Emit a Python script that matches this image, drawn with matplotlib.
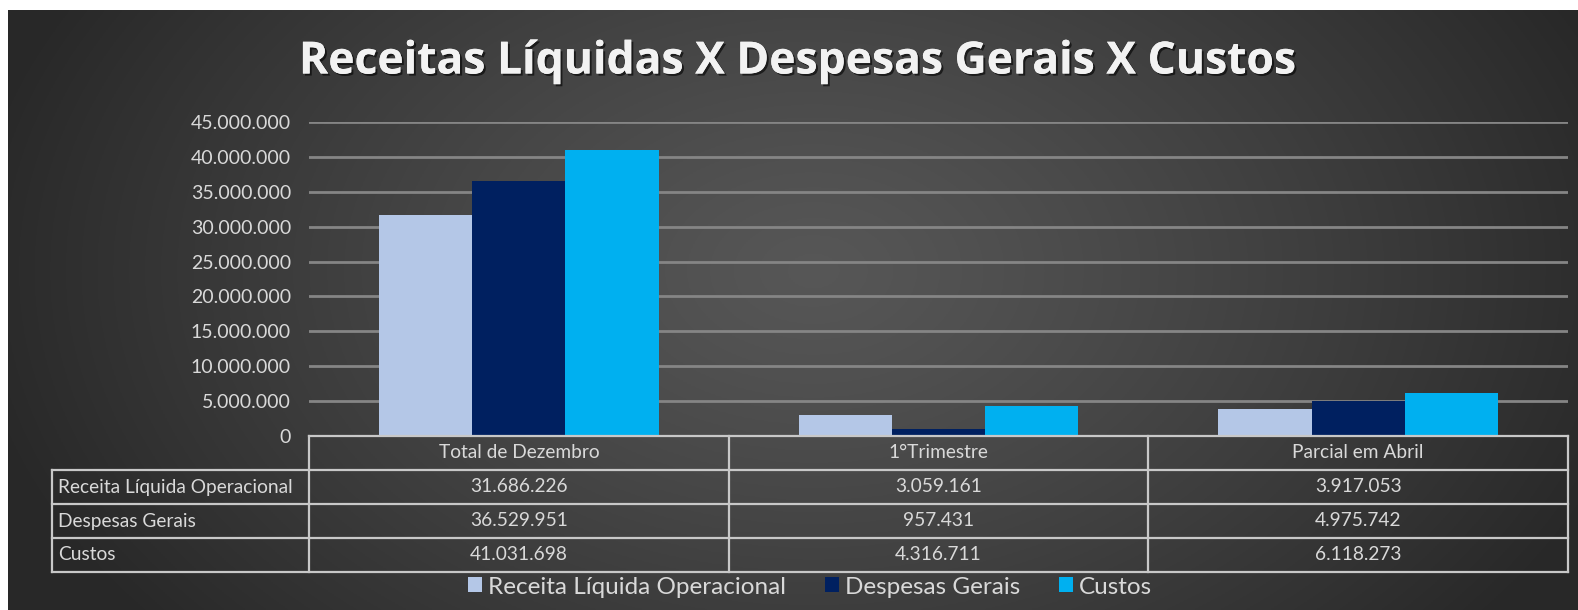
import numpy as np
import matplotlib.pyplot as plt
import matplotlib.patheffects as pe

plt.rcParams['font.family'] = ['Lato', 'DejaVu Sans']

# data
categorias = ["Total de Dezembro", "1°Trimestre", "Parcial em Abril"]
series = ["Receita Líquida Operacional", "Despesas Gerais", "Custos"]
receita = [31686226, 3059161, 3917053]
despesas = [36529951, 957431, 4975742]
custos = [41031698, 4316711, 6118273]
cores = ["#B4C7E7", "#002060", "#00B0F0"]
yticks = list(range(0, 45000001, 5000000))

valores = [receita, despesas, custos]

def fmt(v):
    return f"{v:,}".replace(",", ".")

W, H = 1578, 610
fig = plt.figure(figsize=(W / 100, H / 100), dpi=100)
fig.patch.set_facecolor("white")

# background with radial gradient
bg = fig.add_axes([8 / W, 0, 1 - 8 / W, 1 - 10 / H])
yy, xx = np.mgrid[0:300, 0:800]
r = np.sqrt(((xx - 410) / 430.0) ** 2 + ((yy - 130) / 280.0) ** 2)
r = np.clip(r, 0, 1)
lum = 0.34 - 0.18 * r ** 1.2
img = np.dstack([lum, lum, lum])
bg.imshow(img, aspect="auto", extent=[0, 1, 0, 1], origin="upper")
bg.set_axis_off()

# main chart
x0, x1 = 309, 1568
y_top, y_zero = 122, 436
ax = fig.add_axes([x0 / W, 1 - y_zero / H, (x1 - x0) / W, (y_zero - y_top) / H])
ax.patch.set_alpha(0)
x = np.arange(len(categorias))
bw = 1 / 4.5
for i, (nome, vals) in enumerate(zip(series, valores)):
    ax.bar(x + (i - 1) * bw, vals, width=bw, color=cores[i], label=nome, zorder=3)
ax.set_xlim(-0.5, len(categorias) - 0.5)
ax.set_ylim(0, 45000000)
ax.set_yticks(yticks)
ax.set_yticklabels([fmt(t) for t in yticks], color="#d9d9d9", fontsize=14)
ax.tick_params(axis="y", length=0, pad=13)
ax.set_xticks([])
ax.yaxis.grid(True, color="#858585", lw=2, zorder=0)
for s in ax.spines.values():
    s.set_visible(False)

# title
fig.text(798 / W, 1 - 62 / H, "Receitas Líquidas X Despesas Gerais X Custos",
         ha="center", va="center", fontsize=32, fontweight="bold", color="#f2f2f2",
         family=["Open Sans", "DejaVu Sans"],
         path_effects=[pe.withSimplePatchShadow(offset=(1.5, -1.5), shadow_rgbFace="black", alpha=0.6),
                       pe.Normal()])

# data table
tx0, tsplit, t_top, t_bot = 52, 309, 436, 572
tab = fig.add_axes([0, 0, 1, 1])
tab.set_xlim(0, W)
tab.set_ylim(H, 0)
tab.set_axis_off()
tab.patch.set_alpha(0)
lc, lw = "#c8c8c8", 1.6
nrows = len(series) + 1
rh = (t_bot - t_top) / nrows
cw = (x1 - tsplit) / len(categorias)
# horizontal lines
tab.plot([tsplit, x1], [t_top, t_top], color=lc, lw=lw)
for k in range(1, nrows + 1):
    y = t_top + k * rh
    tab.plot([tx0, x1], [y, y], color=lc, lw=lw)
# vertical lines
tab.plot([tx0, tx0], [t_top + rh, t_bot], color=lc, lw=lw)
for j in range(len(categorias) + 1):
    xv = tsplit + j * cw
    tab.plot([xv, xv], [t_top, t_bot], color=lc, lw=lw)
# header
fs = 13.8
for j, c in enumerate(categorias):
    tab.text(tsplit + (j + 0.5) * cw, t_top + 0.5 * rh, c, ha="center", va="center",
             fontsize=fs, color="#d9d9d9")
for i, (nome, vals) in enumerate(zip(series, valores)):
    yc = t_top + (i + 1.5) * rh
    tab.text(tx0 + 6, yc, nome, ha="left", va="center", fontsize=fs, color="#d9d9d9")
    for j, v in enumerate(vals):
        tab.text(tsplit + (j + 0.5) * cw, yc, fmt(v), ha="center", va="center",
                 fontsize=fs, color="#d9d9d9")

# legend
leg = fig.legend(*ax.get_legend_handles_labels(), loc="center", bbox_to_anchor=(810 / W, 1 - 587 / H),
                 ncol=3, frameon=False, fontsize=17.5, labelcolor="#d9d9d9",
                 handlelength=0.58, handleheight=0.58, handletextpad=0.25, columnspacing=1.6)

fig.savefig("out.png", dpi=100, facecolor=fig.get_facecolor())
